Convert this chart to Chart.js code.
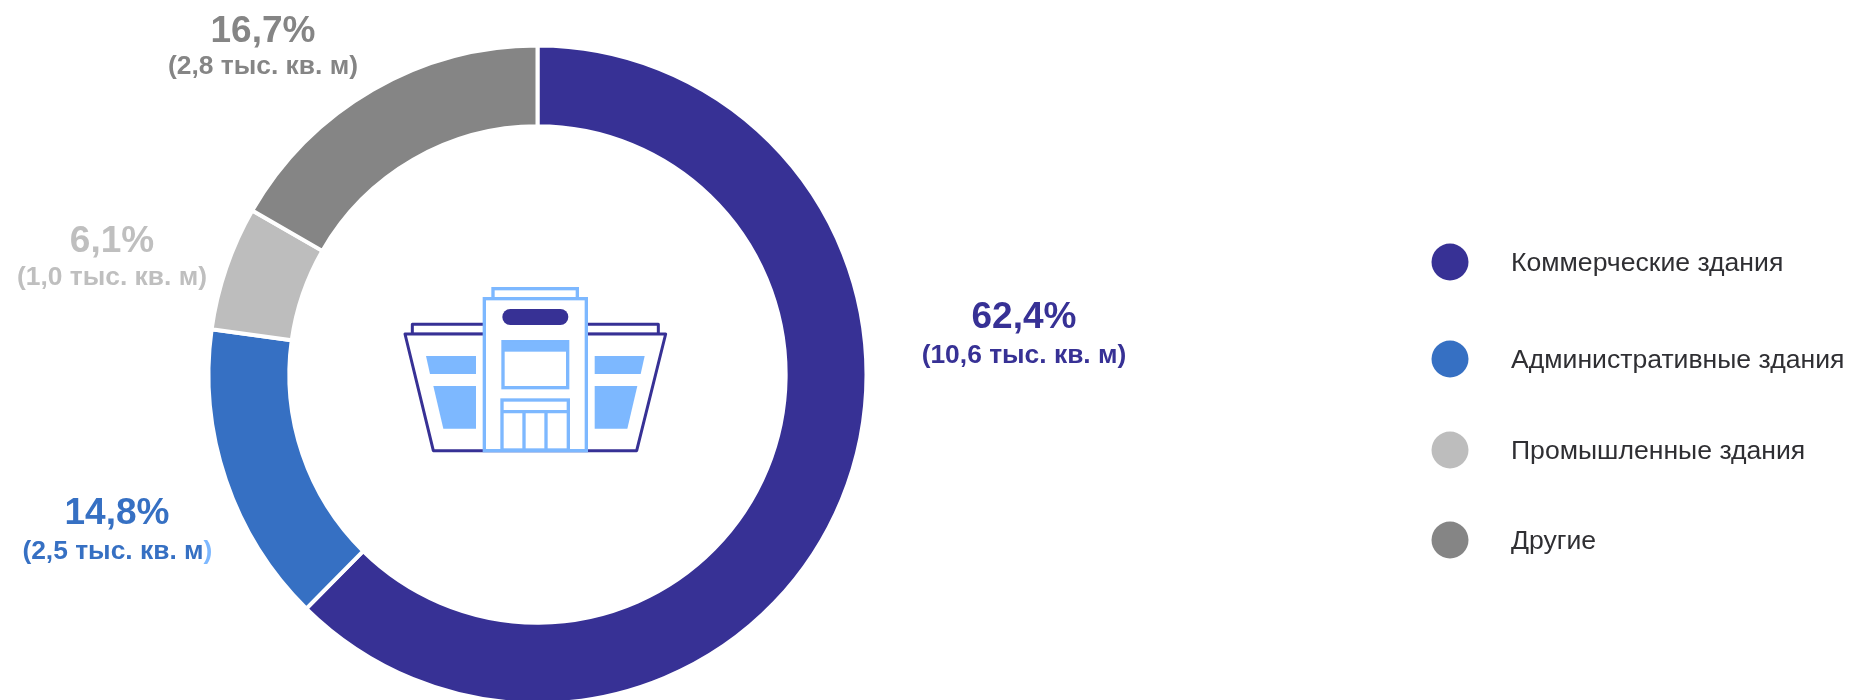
<!DOCTYPE html>
<html lang="ru">
<head>
<meta charset="utf-8">
<title>Структура площадей</title>
<script src="https://cdn.jsdelivr.net/npm/chart.js@4"></script>
<style>
  html, body { margin: 0; padding: 0; background: #fff; overflow: hidden; }
  #wrap { position: relative; width: 1850px; height: 700px; }
  #icon { position: absolute; left: 380px; top: 270px; }
</style>
</head>
<body>
<div id="wrap">
  <canvas id="donut" width="1850" height="700"></canvas>
  <!-- building in the middle of the ring -->
  <svg id="icon" width="310" height="200" viewBox="0 0 930 600">
    <g fill="#fff" stroke="#373195" stroke-width="9" stroke-linejoin="round">
      <rect x="97" y="163" width="738" height="30"/>
      <polygon points="75,192 857,192 770,542 160,542"/>
    </g>
    <g fill="#7db8ff">
      <polygon points="138,258 288,258 288,312 150,312"/>
      <polygon points="160,348 288,348 288,476 190,476"/>
      <polygon points="644,258 794,258 782,312 644,312"/>
      <polygon points="644,348 772,348 742,476 644,476"/>
    </g>
    <g fill="#fff" stroke="#7db8ff" stroke-width="10">
      <rect x="339" y="56" width="253" height="30"/>
      <rect x="313" y="86" width="306" height="456"/>
      <rect x="369" y="215" width="194" height="138"/>
      <rect x="366" y="390" width="199" height="150"/>
      <line x1="366" y1="425" x2="565" y2="425"/>
      <line x1="432" y1="425" x2="432" y2="540"/>
      <line x1="498" y1="425" x2="498" y2="540"/>
    </g>
    <rect x="369" y="215" width="194" height="30" fill="#7db8ff"/>
    <rect x="367" y="117" width="198" height="48" rx="24" fill="#373195"/>
  </svg>
</div>
<script>
const categories = ['Коммерческие здания', 'Административные здания', 'Промышленные здания', 'Другие'];
const shares = [62.4, 14.8, 6.1, 16.7];
const shareLabels = ['62,4%', '14,8%', '6,1%', '16,7%'];
const areaLabels = ['(10,6 тыс. кв. м)', '(2,5 тыс. кв. м', '(1,0 тыс. кв. м)', '(2,8 тыс. кв. м)'];
const colors = ['#373195', '#3670c3', '#bdbdbd', '#858585'];
const labelColors = ['#373195', '#3670c3', '#bfbfbf', '#858585'];

// where the captions and the legend rows sit on the page: big x, big y, small x, small y
const labelPos = [[1024, 318, 1024, 356], [117, 514, 113, 552], [112, 242, 112, 278], [263, 32, 263, 67]];
const legendY = [262, 359, 450, 540];

const FONT = '"Liberation Sans", Arial, sans-serif';

const captions = {
  id: 'captions',
  afterDraw(chart) {
    const ctx = chart.ctx;
    ctx.save();
    ctx.textAlign = 'center';
    ctx.textBaseline = 'middle';
    for (let i = 0; i < shares.length; i++) {
      const p = labelPos[i];
      ctx.fillStyle = labelColors[i];
      ctx.font = 'bold 37px ' + FONT;
      ctx.fillText(shareLabels[i], p[0], p[1]);
      ctx.font = 'bold 26.4px ' + FONT;
      ctx.fillText(areaLabels[i], p[2], p[3]);
      // closing bracket of the blue caption is lighter in the original
      if (i == 1) {
        const w = ctx.measureText(areaLabels[i]).width;
        ctx.textAlign = 'left';
        ctx.fillStyle = '#7db8ff';
        ctx.fillText(')', p[2] + w / 2, p[3]);
        ctx.textAlign = 'center';
      }
    }
    ctx.restore();
  }
};

const sideLegend = {
  id: 'sideLegend',
  afterDraw(chart) {
    const ctx = chart.ctx;
    ctx.save();
    ctx.textBaseline = 'middle';
    ctx.font = '26.6px ' + FONT;
    for (let i = 0; i < categories.length; i++) {
      ctx.fillStyle = colors[i];
      ctx.beginPath();
      ctx.arc(1450, legendY[i], 18.5, 0, Math.PI * 2);
      ctx.fill();
      ctx.fillStyle = '#2f2f33';
      ctx.fillText(categories[i], 1511, legendY[i] + 2);
    }
    ctx.restore();
  }
};

new Chart(document.getElementById('donut'), {
  type: 'doughnut',
  data: {
    labels: categories,
    datasets: [{
      data: shares,
      backgroundColor: colors,
      borderColor: '#fff',
      borderWidth: 4
    }]
  },
  options: {
    responsive: false,
    animation: false,
    devicePixelRatio: 1,
    radius: 329,
    cutout: 244,
    layout: { padding: { left: 0, right: 775, top: 49, bottom: 0 } },
    plugins: {
      legend: { display: false },
      tooltip: { enabled: false }
    }
  },
  plugins: [captions, sideLegend]
});
</script>
</body>
</html>
